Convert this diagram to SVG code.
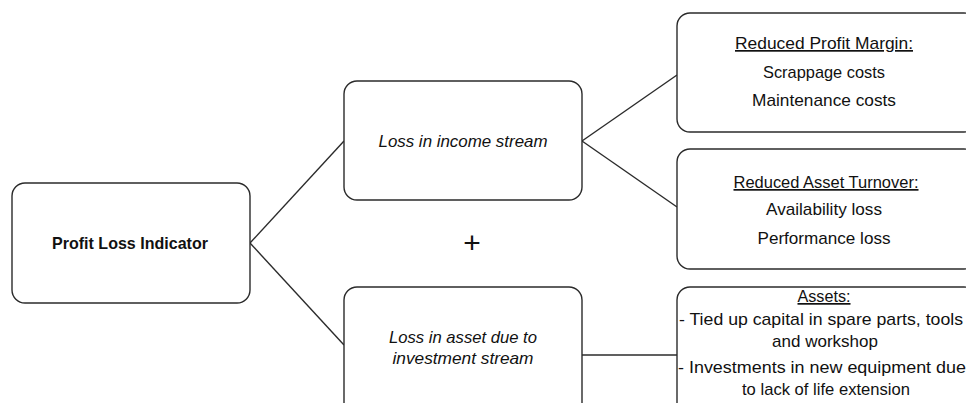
<svg xmlns="http://www.w3.org/2000/svg" width="966" height="403" viewBox="0 0 966 403">
<style>
.box{fill:#fff;stroke:#2b2b2b;stroke-width:1.4}
.t{font-family:"Liberation Sans",Arial,sans-serif;font-size:17px;fill:#111;text-anchor:middle}
.b{font-weight:bold}
.i{font-style:italic}
.u{text-decoration:underline}
.c{stroke:#2b2b2b;stroke-width:1.4;fill:none}
</style>
<rect width="966" height="403" fill="#fff"/>
<g id="connectors">
<line class="c" x1="250" y1="243" x2="344" y2="141"/>
<line class="c" x1="250" y1="243" x2="344" y2="345"/>
<line class="c" x1="582" y1="141" x2="677" y2="75"/>
<line class="c" x1="582" y1="141" x2="677" y2="207"/>
<line class="c" x1="582" y1="355" x2="677" y2="355"/>
</g>
<g id="profit-loss-indicator">
<rect class="box" x="12" y="183" width="238" height="120" rx="13"/>
<text class="t b" x="130" y="249" textLength="156" lengthAdjust="spacingAndGlyphs">Profit Loss Indicator</text>
</g>
<g id="loss-income">
<rect class="box" x="344" y="81" width="238" height="119" rx="13"/>
<text class="t i" x="463" y="147" textLength="169" lengthAdjust="spacingAndGlyphs">Loss in income stream</text>
</g>
<g id="loss-asset">
<rect class="box" x="344" y="287" width="238" height="130" rx="13"/>
<text class="t i" x="463" y="343" textLength="148" lengthAdjust="spacingAndGlyphs">Loss in asset due to</text>
<text class="t i" x="463" y="364" textLength="141" lengthAdjust="spacingAndGlyphs">investment stream</text>
</g>
<g id="plus">
<text x="472" y="253" style="font-family:'Liberation Sans',Arial,sans-serif;font-size:30px;fill:#111;text-anchor:middle">+</text>
</g>
<g id="reduced-profit-margin">
<rect class="box" x="677" y="13" width="300" height="119" rx="13"/>
<text class="t u" x="824" y="49" textLength="178" lengthAdjust="spacingAndGlyphs">Reduced Profit Margin:</text>
<text class="t" x="824" y="78" textLength="122" lengthAdjust="spacingAndGlyphs">Scrappage costs</text>
<text class="t" x="824" y="106" textLength="144" lengthAdjust="spacingAndGlyphs">Maintenance costs</text>
</g>
<g id="reduced-asset-turnover">
<rect class="box" x="677" y="149" width="300" height="120" rx="13"/>
<text class="t u" x="826" y="188" textLength="185" lengthAdjust="spacingAndGlyphs">Reduced Asset Turnover:</text>
<text class="t" x="824" y="215" textLength="116" lengthAdjust="spacingAndGlyphs">Availability loss</text>
<text class="t" x="824" y="244" textLength="133" lengthAdjust="spacingAndGlyphs">Performance loss</text>
</g>
<g id="assets">
<rect class="box" x="677" y="287" width="300" height="130" rx="13"/>
<text class="t u" x="824" y="302" textLength="53" lengthAdjust="spacingAndGlyphs">Assets:</text>
<text class="t" x="821" y="325" textLength="284" lengthAdjust="spacingAndGlyphs">- Tied up capital in spare parts, tools</text>
<text class="t" x="825" y="347">and workshop</text>
<text class="t" x="822" y="373" textLength="288" lengthAdjust="spacingAndGlyphs">- Investments in new equipment due</text>
<text class="t" x="826" y="395" textLength="168" lengthAdjust="spacingAndGlyphs">to lack of life extension</text>
</g>
</svg>
